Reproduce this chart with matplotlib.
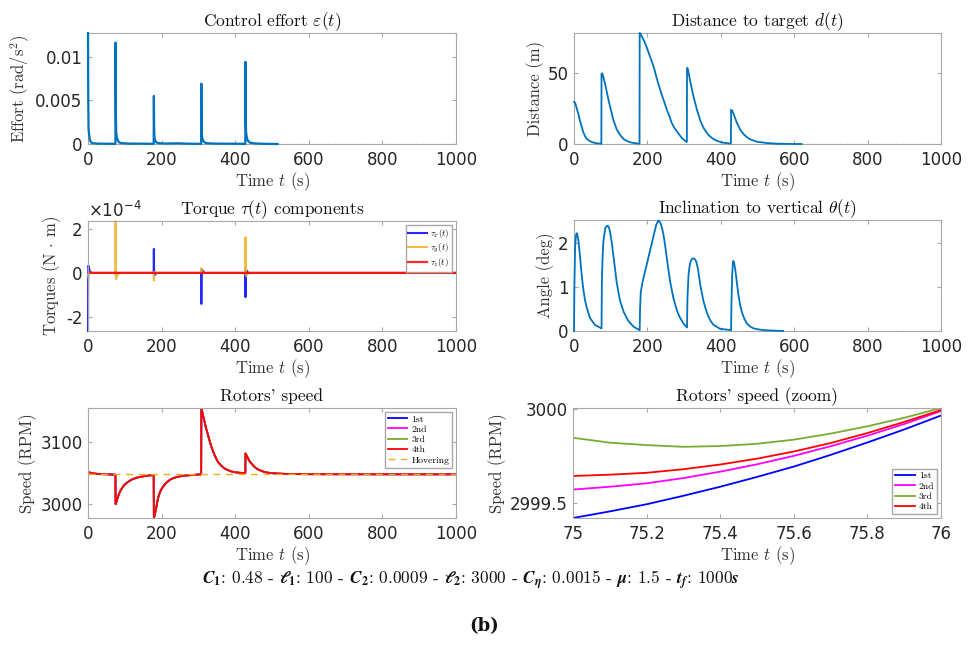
import matplotlib
matplotlib.use('Agg')
import matplotlib.pyplot as plt

# ---- data ----
# control effort (rad/s^2)
effort_t = [0, 0.6, 1.5, 3, 5, 8, 12, 25, 50, 74.5,
            75, 75.6, 76.5, 78, 80, 84, 90, 110, 140, 178.5,
            179, 179.6, 180.5, 182, 185, 191, 210, 240, 280, 307.5,
            308, 308.6, 309.5, 311, 314, 320, 340, 370, 400, 427.5,
            428, 428.6, 429.5, 431, 434, 440, 455, 475, 495, 515]
effort_v = [0.0127, 0.0055, 0.0017, 0.0011, 0.0005, 0.0002, 0.0001, 0.00005, 0.00003, 0.00002,
            0.0116, 0.0045, 0.0014, 0.0009, 0.0005, 0.0002, 0.0001, 0.00005, 0.00004, 0.00002,
            0.0055, 0.0022, 0.0008, 0.0005, 0.0002, 0.0001, 0.00005, 0.00008, 0.00003, 0.00002,
            0.0069, 0.0027, 0.0009, 0.0006, 0.0003, 0.0001, 0.00005, 0.00004, 0.00003, 0.00002,
            0.0094, 0.0036, 0.0014, 0.0009, 0.0004, 0.00015, 0.00006, 0.00003, 0.00001, 0]
effort_tail = [515, 1000]

# distance to target (m)
dist_t = [0, 3, 7, 12, 16, 20, 25, 30, 35, 44, 53, 62, 74.5,
          75, 77, 80, 85, 89, 94, 98, 103, 107, 112, 116, 125, 135, 145, 153, 165, 178.5,
          179, 182, 186, 192, 198, 205, 212, 219, 225, 232, 239, 246, 253, 260, 266, 273, 280, 287, 294, 300, 307.5,
          308, 310, 316, 320, 325, 330, 335, 340, 344, 353, 362, 371, 380, 389, 398, 407, 427.5,
          428, 431, 435, 440, 444, 449, 453, 462, 471, 480, 498, 525, 553, 590, 620]
dist_v = [29.5, 29, 25.5, 21, 16.5, 13, 8.5, 5.5, 3.5, 1.9, 1.0, 0.5, 0.2,
          49.5, 49.5, 47, 42, 37, 31, 26.5, 21.5, 17, 13.5, 10.5, 6.6, 3.5, 2.0, 1.2, 0.6, 0.2,
          78, 77, 75, 72, 68, 63, 58, 52.5, 46.5, 40.5, 34.7, 29.5, 24, 19.5, 15, 11.5, 9, 6.5, 4.2, 2.8, 1.4,
          53.5, 53, 45, 40, 34, 29, 24, 20, 16.5, 11.3, 7.8, 5.2, 3.5, 2.3, 1.5, 0.9, 0.3,
          24, 23.5, 21, 17.5, 14.8, 12.3, 10, 7, 4.8, 3.3, 1.6, 0.7, 0.2, 0.05, 0]
dist_tail = [620, 1000]

# torque components (x 1e-4 N m)
taux_t = [0, 0.3, 1, 2, 3, 5, 8, 12,
          74.5, 75, 75.5, 76.5, 78, 82,
          178.5, 179, 179.5, 180.5, 182, 186,
          307.5, 308, 308.5, 309.5, 311, 316,
          427.5, 428, 428.5, 429.5, 431, 436, 1000]
taux_v = [-2.64, -0.5, 0.33, 0.3, 0.2, 0.08, 0.02, 0,
          0, -0.05, 0.05, 0.02, 0, 0,
          0, 1.09, 0.2, -0.1, -0.08, 0,
          0, -1.41, -0.2, 0.15, 0.12, 0,
          0, -1.1, -0.15, 0.12, 0.1, 0, 0]
tauy_t = [0, 1, 3, 8,
          74.5, 75, 75.6, 76.5, 78, 82, 90,
          178.5, 179, 179.6, 180.5, 182, 188,
          307.5, 308, 308.6, 310, 315,
          427.5, 428, 428.6, 429.5, 431, 438, 1000]
tauy_v = [-0.15, -0.05, 0.02, 0,
          0, 2.36, -0.1, -0.28, -0.15, -0.03, 0,
          0, -0.35, -0.1, 0.05, 0.03, 0,
          0, 0.22, 0.05, 0.03, 0,
          0, 1.62, -0.05, -0.15, -0.08, 0, 0]
tauz_t = [0, 1, 4, 10, 1000]
tauz_v = [0.08, 0.05, 0.02, 0, 0]

# inclination to vertical (deg)
angle_t = [0, 1, 3, 5, 7, 9, 12, 16, 20, 25, 30, 35, 44, 57, 74.5,
           75, 76, 78, 80, 85, 89, 92, 95, 98, 103, 107, 112, 116, 125, 135, 148, 162, 178.5,
           179, 180, 182, 187, 192, 198, 205, 212, 218, 224, 230, 236, 240, 244, 249, 253, 258, 262,
           271, 280, 287, 294, 300, 307.5,
           308, 309, 312, 315, 318, 322, 325, 329, 333, 338, 344, 353, 360, 366, 373, 380, 398, 427.5,
           428, 429, 431, 433, 434, 436, 439, 443, 448, 452, 457, 464, 471, 480, 489, 500, 516, 540, 570]
angle_v = [0, 1.0, 1.9, 2.15, 2.22, 2.2, 2.05, 1.73, 1.35, 0.97, 0.7, 0.52, 0.29, 0.14, 0.06,
           0.06, 1.12, 1.7, 2.03, 2.33, 2.38, 2.39, 2.35, 2.26, 2.0, 1.73, 1.4, 1.12, 0.70, 0.44, 0.23, 0.10, 0.02,
           0.02, 0.5, 0.89, 1.12, 1.3, 1.5, 1.75, 1.99, 2.2, 2.41, 2.51, 2.45, 2.33, 2.18, 1.9, 1.65, 1.35, 1.12,
           0.74, 0.48, 0.33, 0.23, 0.15, 0.08,
           0.08, 0.7, 1.27, 1.48, 1.58, 1.64, 1.65, 1.63, 1.58, 1.4, 1.05, 0.67, 0.47, 0.33, 0.22, 0.14, 0.05, 0.02,
           0.02, 0.6, 1.27, 1.55, 1.59, 1.56, 1.42, 1.15, 0.82, 0.62, 0.44, 0.28, 0.17, 0.1, 0.06, 0.04, 0.02, 0.01, 0]
angle_tail = [570, 1000]

# rotors' speed (RPM), all four rotors coincide at this scale
rpm_t = [0, 10, 20, 35, 50, 74.5,
         75, 76, 78, 80, 84, 89, 94, 98, 107, 116, 125, 135, 153, 178.5,
         179, 180, 182, 184, 187, 189, 193, 198, 205, 212, 218, 225, 235, 244, 258, 271, 290, 307.5,
         308, 310, 313, 316, 320, 325, 330, 335, 340, 344, 353, 362, 371, 380, 389, 400, 412, 427.5,
         428, 430, 435, 440, 444, 450, 456, 462, 471, 480, 493, 507, 530, 553, 600, 700, 850, 1000]
rpm_v = [3051.5, 3050, 3049, 3048.3, 3048, 3047.5,
         2999.8, 3001, 3005, 3009, 3016, 3022.5, 3027, 3030.5, 3035, 3038.7, 3041, 3043, 3045, 3047,
         2977.5, 2979, 2984, 2990, 2999, 3006, 3015, 3022.5, 3029, 3034, 3037, 3040, 3042.5, 3044, 3045.5, 3046.3, 3047.2, 3048,
         3155, 3150, 3142, 3135, 3124, 3114, 3103, 3093, 3085, 3079, 3068, 3062, 3057.5, 3054.8, 3052.7, 3051.3, 3050.5, 3050,
         3081.7, 3079.5, 3073.6, 3068, 3065.6, 3061.5, 3058.2, 3055.9, 3053.5, 3051.6, 3050.3, 3049.5, 3048.8, 3048.4, 3048.2, 3048.1, 3048, 3048]
hover_rpm = 3048

# zoom between t = 75 s and 76 s
zoom_t = [75, 75.1, 75.2, 75.3, 75.4, 75.5, 75.6, 75.7, 75.8, 75.9, 76]
rotor1 = [2999.420, 2999.455, 2999.493, 2999.538, 2999.586, 2999.638, 2999.693, 2999.755, 2999.821, 2999.890, 2999.964]
rotor2 = [2999.571, 2999.586, 2999.604, 2999.632, 2999.666, 2999.705, 2999.750, 2999.801, 2999.857, 2999.919, 2999.988]
rotor3 = [2999.846, 2999.820, 2999.807, 2999.798, 2999.802, 2999.814, 2999.836, 2999.868, 2999.907, 2999.952, 3000.004]
rotor4 = [2999.643, 2999.650, 2999.660, 2999.679, 2999.704, 2999.735, 2999.773, 2999.818, 2999.871, 2999.930, 2999.993]
rotor_labels = ['1st', '2nd', '3rd', '4th']

time_ticks = [0, 200, 400, 600, 800, 1000]
zoom_ticks = [75, 75.2, 75.4, 75.6, 75.8, 76]

SERIF = 'cmr10'
BLUE = '#0072BD'
rotor_colors = ['#0000FF', '#FF00FF', '#77AC30', '#FF0000']

plt.rcParams.update({
    'font.family': 'DejaVu Sans',
    'mathtext.fontset': 'cm',
    'axes.unicode_minus': False,
    'axes.edgecolor': '#a8a8a8',
    'axes.linewidth': 0.8,
    'xtick.direction': 'in', 'ytick.direction': 'in',
    'xtick.top': True, 'ytick.right': True,
    'xtick.color': '#a8a8a8', 'ytick.color': '#a8a8a8',
    'xtick.labelcolor': '#262626', 'ytick.labelcolor': '#262626',
    'xtick.labelsize': 12, 'ytick.labelsize': 12,
    'xtick.major.size': 3, 'ytick.major.size': 3,
    'xtick.major.pad': 5, 'ytick.major.pad': 4,
})

fig = plt.figure(figsize=(9.68, 6.5), dpi=100)
W, H = 968, 650


def make_axes(x0, x1, y0, y1):
    return fig.add_axes([x0 / W, 1 - y1 / H, (x1 - x0) / W, (y1 - y0) / H])


def style(ax, title, ylabel, xlabel='Time $t$ (s)'):
    ax.set_title(title, family=SERIF, fontsize=12.5, pad=5, color='#111111')
    ax.set_ylabel(ylabel, family=SERIF, fontsize=12, labelpad=2, color='#333333')
    ax.set_xlabel(xlabel, family=SERIF, fontsize=12, labelpad=1, color='#333333')


legend_kw = dict(frameon=True, fancybox=False, framealpha=1, edgecolor='#a8a8a8',
                 handlelength=2.0, borderpad=0.3, labelspacing=0.15, handletextpad=0.4,
                 borderaxespad=0.4, prop={'family': SERIF, 'size': 7})

# control effort
ax = make_axes(88, 456, 33, 144)
ax.plot(effort_t, effort_v, color=BLUE, lw=1.6, clip_on=False, zorder=3)
ax.plot(effort_tail, [0, 0], color=BLUE, lw=0.9, ls=(0, (1, 4)), alpha=0.7)
ax.set_xlim(0, 1000)
ax.set_ylim(0, 0.0127)
ax.set_xticks(time_ticks)
ax.set_yticks([0, 0.005, 0.01], ['0', '0.005', '0.01'])
style(ax, r'Control effort $\varepsilon(t)$', r'Effort (rad/s$^2$)')

# distance
ax = make_axes(574, 941, 33, 144)
ax.plot(dist_t, dist_v, color=BLUE, lw=1.3, clip_on=False, zorder=3)
ax.plot(dist_tail, [0, 0], color=BLUE, lw=0.9, ls=(0, (1, 4)), alpha=0.7)
ax.set_xlim(0, 1000)
ax.set_ylim(0, 78)
ax.set_xticks(time_ticks)
ax.set_yticks([0, 50])
style(ax, r'Distance to target $d(t)$', 'Distance (m)')

# torques
ax = make_axes(88, 456, 221, 331)
ax.plot(taux_t, taux_v, color='#0000FF', lw=1.5, alpha=0.85, label=r'$\tau_x(t)$', clip_on=False)
ax.plot(tauy_t, tauy_v, color='#EDB120', lw=1.5, alpha=0.85, label=r'$\tau_y(t)$', clip_on=False)
ax.plot(tauz_t, tauz_v, color='#FF0000', lw=1.6, alpha=0.85, label=r'$\tau_z(t)$')
ax.set_xlim(0, 1000)
ax.set_ylim(-2.64, 2.36)
ax.set_xticks(time_ticks)
ax.set_yticks([-2, 0, 2])
ax.text(0.0, 1.0, r'$\times$10$^{-4}$', transform=ax.transAxes, ha='left', va='bottom',
        fontsize=12, color='#262626', math_fontfamily='dejavusans')
ax.legend(loc='upper right', **{**legend_kw, 'prop': {'family': SERIF, 'size': 6.5}})
style(ax, r'Torque $\tau(t)$ components', r'Torques (N $\cdot$ m)')

# inclination
ax = make_axes(574, 941, 220, 331)
ax.plot(angle_t, angle_v, color=BLUE, lw=1.3, clip_on=False, zorder=3)
ax.plot(angle_tail, [0, 0], color=BLUE, lw=0.9, ls=(0, (1, 4)), alpha=0.7)
ax.set_xlim(0, 1000)
ax.set_ylim(0, 2.52)
ax.set_xticks(time_ticks)
ax.set_yticks([0, 1, 2])
style(ax, r'Inclination to vertical $\theta(t)$', 'Angle (deg)')

# rotors' speed
ax = make_axes(88, 456, 408, 518)
for lab, col in zip(rotor_labels, rotor_colors):
    ax.plot(rpm_t, rpm_v, color=col, lw=1.3, label=lab)
ax.axhline(hover_rpm, color='#EDB120', lw=1.0, ls=(0, (5, 4)), label='Hovering')
ax.set_xlim(0, 1000)
ax.set_ylim(2977.5, 3155)
ax.set_xticks(time_ticks)
ax.set_yticks([3000, 3100])
ax.legend(loc='upper right', **legend_kw)
style(ax, "Rotors' speed", 'Speed (RPM)')

# zoom
ax = make_axes(573, 941, 408, 518)
for vals, lab, col in zip([rotor1, rotor2, rotor3, rotor4], rotor_labels, rotor_colors):
    ax.plot(zoom_t, vals, color=col, lw=1.3, label=lab)
ax.set_xlim(75, 76)
ax.set_ylim(2999.42, 3000.004)
ax.set_xticks(zoom_ticks, ['75', '75.2', '75.4', '75.6', '75.8', '76'])
ax.set_yticks([2999.5, 3000], ['2999.5', '3000'])
ax.legend(loc='lower right', **legend_kw)
style(ax, "Rotors' speed (zoom)", 'Speed (RPM)')

caption = (r'$\mathbfit{C}_{\mathbf{1}}$: 0.48 - $\mathbfit{\ell}_{\mathbf{1}}$: 100 - '
           r'$\mathbfit{C}_{\mathbf{2}}$: 0.0009 - $\mathbfit{\ell}_{\mathbf{2}}$: 3000 - '
           r'$\mathbfit{C}_{\mathbfit{\eta}}$: 0.0015 - $\mathbfit{\mu}$: 1.5 - '
           r'$\mathbfit{t}_{\mathbfit{f}}$: 1000$\mathbfit{s}$')
fig.text(471 / W, 1 - 580 / H, caption, ha='center', va='center', family=SERIF,
         fontsize=12.5, math_fontfamily='stix', color='#111111')
fig.text(484 / W, 1 - 626 / H, '(b)', ha='center', va='center', family='DejaVu Serif',
         fontweight='bold', fontsize=13, color='#111111')

fig.savefig('out.png', dpi=100)
